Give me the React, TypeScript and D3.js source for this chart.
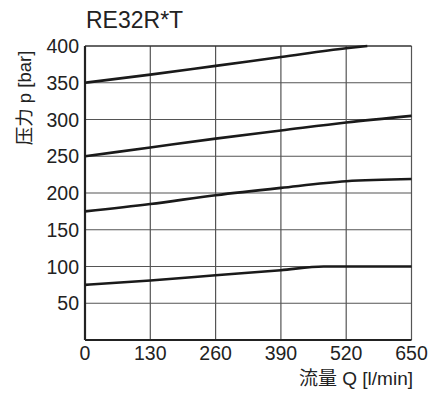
import React from "react";
import * as d3 from "d3";

const title = "RE32R*T";
const xTicks = [0, 130, 260, 390, 520, 650];
const yTicks = [50, 100, 150, 200, 250, 300, 350, 400];

// pressure curves: flow Q [l/min] vs pressure p [bar]
const q350 = [0, 130, 260, 390, 520, 562];
const p350 = [350, 361, 373, 385, 397, 400];
const q250 = [0, 130, 260, 390, 520, 650];
const p250 = [250, 262, 274, 285, 296, 305];
const q175 = [0, 130, 260, 390, 520, 650];
const p175 = [175, 185, 197, 207, 216, 219];
const q75 = [0, 130, 260, 390, 475, 520, 650];
const p75 = [75, 81, 88, 95, 100, 100, 100];

const series = [
  { q: q350, p: p350 },
  { q: q250, p: p250 },
  { q: q175, p: p175 },
  { q: q75, p: p75 },
];

const W = 443;
const H = 393;
const margin = { top: 46, right: 31.5, bottom: 53, left: 85 };
const font = "'Liberation Sans', Arial, 'Noto Sans CJK JP', sans-serif";

const App: React.FC = () => {
  const innerW = W - margin.left - margin.right;
  const innerH = H - margin.top - margin.bottom;

  const x = d3.scaleLinear().domain([0, 650]).range([0, innerW]);
  const y = d3.scaleLinear().domain([0, 400]).range([innerH, 0]);

  const line = d3
    .line<[number, number]>()
    .x((d) => x(d[0]))
    .y((d) => y(d[1]))
    .curve(d3.curveMonotoneX);

  return (
    <svg
      width={W}
      height={H}
      style={{ position: "absolute", left: 0, top: 0, background: "#fff" }}
      fontFamily={font}
    >
      <text x={86} y={28} fontSize={23} fill="#222">
        {title}
      </text>
      <g transform={`translate(${margin.left},${margin.top})`}>
        {/* grid */}
        {xTicks.slice(1).map((t) => (
          <line key={"gx" + t} x1={x(t)} x2={x(t)} y1={0} y2={innerH} stroke="#555" strokeWidth={1.2} />
        ))}
        {yTicks.map((t) => (
          <line key={"gy" + t} x1={0} x2={innerW} y1={y(t)} y2={y(t)} stroke={t === 400 ? "#333" : "#555"} strokeWidth={t === 400 ? 1.6 : 1.2} />
        ))}
        {/* axes */}
        <line x1={0} x2={0} y1={0} y2={innerH} stroke="#222" strokeWidth={2.2} />
        <line x1={0} x2={innerW} y1={innerH} y2={innerH} stroke="#222" strokeWidth={2.2} />
        {/* curves */}
        {series.map((s, i) => (
          <path
            key={i}
            d={line(s.q.map((v, j) => [v, s.p[j]] as [number, number])) || ""}
            fill="none"
            stroke="#1a1a1a"
            strokeWidth={2.6}
          />
        ))}
        {/* tick labels */}
        {yTicks.map((t) => (
          <text key={"ly" + t} x={-6} y={y(t)} dy="0.36em" textAnchor="end" fontSize={19.5} fill="#222">
            {t}
          </text>
        ))}
        {xTicks.map((t) => (
          <text key={"lx" + t} x={x(t)} y={innerH + 20} textAnchor="middle" fontSize={19.5} fill="#222">
            {t}
          </text>
        ))}
      </g>
      <text
        transform={`translate(31,${98}) rotate(-90)`}
        textAnchor="middle"
        fontSize={18.5}
        fill="#222"
      >
        压力 p [bar]
      </text>
      <text x={413} y={385} textAnchor="end" fontSize={19} fill="#222">
        流量 Q [l/min]
      </text>
    </svg>
  );
};

export default App;
